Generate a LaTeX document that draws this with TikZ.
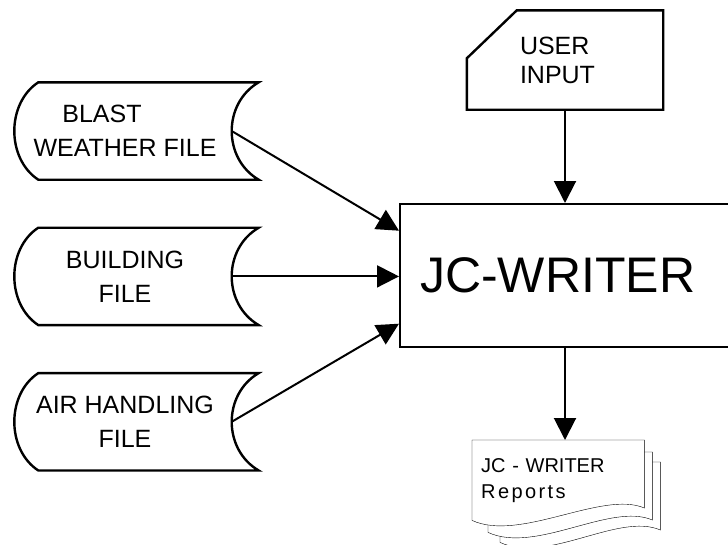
\documentclass[tikz,border=0pt]{standalone}
\usepackage{fontspec}
\newfontfamily\lettering{Liberation Sans}
\usetikzlibrary{arrows.meta, positioning, calc, backgrounds}

\begin{document}
\begin{tikzpicture} [x = 1pt, y = -1pt, line width = 2.4pt, >= {Triangle[length = 22pt, width = 22pt]},
  flow/.style = {->, line width = 2pt},
  filebox/.style = {minimum width = 225pt, minimum height = 95pt, inner sep = 0pt, align = center,
    font = \lettering\fontsize{25}{34}\selectfont},
  inbox/.style = {minimum height = 97pt, text width = 90pt, inner xsep = 52pt, inner ysep = 0pt, align = left,
    font = \lettering\fontsize{25}{29}\selectfont},
  mainbox/.style = {draw, minimum height = 143pt, text width = 310pt, inner xsep = 20pt, align = left,
    font = \lettering\fontsize{50}{60}\selectfont},
  repbox/.style = {minimum width = 170pt, minimum height = 78pt, text width = 154pt, inner xsep = 8pt,
    inner ysep = 0pt, align = left, font = \lettering\fontsize{20}{26}\selectfont}]

\useasboundingbox (0,0) rectangle (728,544);
\clip (0,0) rectangle (728,544);

% input files
\node [filebox] (blast) at (125,131) {BLAST\hspace*{46pt}\\WEATHER FILE};
\node [filebox] (bldg) [below = 48pt of blast] {BUILDING\\FILE};
\node [filebox] (air) [below = 48pt of bldg] {AIR HANDLING\\FILE};

\foreach \f in {blast, bldg, air} {
  \draw ($(\f.south west)+(27,0)$) .. controls +(-32,-21) and +(-32,21) .. ($(\f.north west)+(27,0)$)
    -- ($(\f.north east)+(20,0)$) .. controls +(-36,21) and +(-36,-21) .. ($(\f.south east)+(20,0)$) -- cycle;
  \coordinate (\f-out) at ($(\f.east)+(-7,0)$);
}

% user input card
\node [inbox] (user) at (565,60) {USER\\INPUT};
\draw ($(user.north west)+(0,48)$) -- ($(user.north west)+(50,0)$) -- (user.north east)
  -- (user.south east) -- (user.south west) -- cycle;

% program
\node [mainbox, anchor = north west] (jc) at (399,203) {JC-WRITER};

% reports
\node [repbox, anchor = north west] (rep) at (472,440) {JC - WRITER\\{\addfontfeature{LetterSpace=12}Reports}};
\begin{scope}[on background layer, line width = 2.4pt]
  \foreach \dl/\dx/\dy in {28/16/22, 16/8/12} {
    \draw [fill = white] ($(rep.north west)+(\dl,\dy)$) -- ($(rep.north east)+(\dx,\dy)$)
      -- ($(rep.north east)+(\dx,68+\dy)$) .. controls +(-42,-18) and +(48,22) .. ($(rep.south west)+(\dl,\dy)$) -- cycle;
  }
  \draw [fill = white] (rep.north west) -- (rep.north east) -- ($(rep.north east)+(0,68)$)
    .. controls +(-42,-18) and +(48,22) .. (rep.south west) -- cycle;
\end{scope}

\draw [flow] (blast-out) -- ($(jc.west)+(0,-45)$);
\draw [flow] (bldg-out) -- (bldg-out -| jc.west);
\draw [flow] (air-out) -- ($(jc.west)+(0,48)$);
\draw [flow] (user.south) -- (user.south |- jc.north);
\draw [flow] (user.south |- jc.south) -- (user.south |- rep.north);

\end{tikzpicture}
\end{document}
